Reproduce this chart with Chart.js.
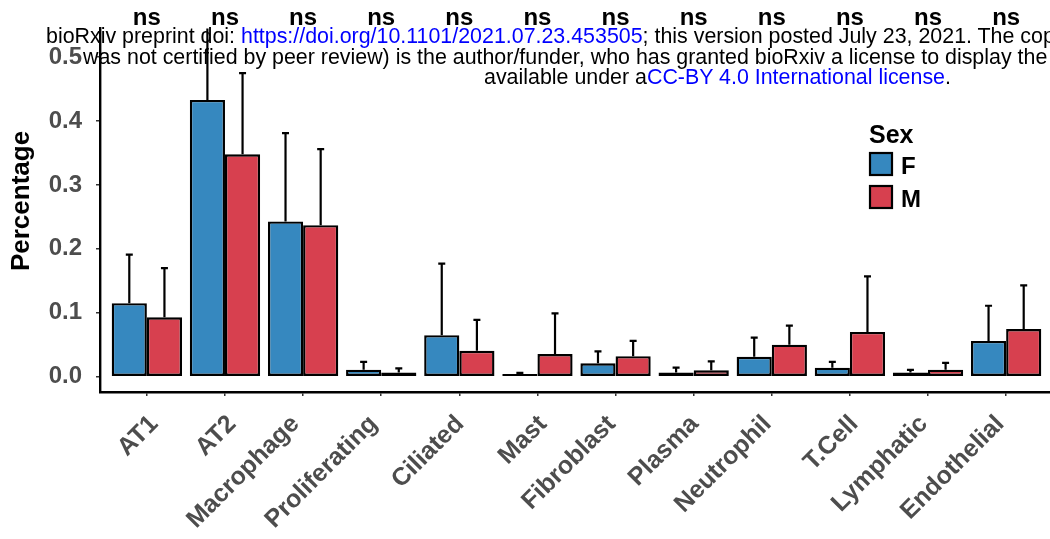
<!DOCTYPE html>
<html>
<head>
<meta charset="utf-8">
<script src="https://cdn.jsdelivr.net/npm/chart.js@4/dist/chart.umd.min.js"></script>
<style>
  html, body { margin: 0; padding: 0; background: #fff; overflow: hidden; }
  #wrap { position: relative; width: 1060px; height: 539px; }
  .note { position: absolute; font: 21.4px "Liberation Sans", Arial, sans-serif; color: #000; white-space: nowrap; line-height: 20.5px; }
  .note a { color: #0000ff; text-decoration: none; }
</style>
</head>
<body>
<div id="wrap">
  <canvas id="chartSex" width="1060" height="539"></canvas>
  <div class="note" style="left:46px; top:26px;">bioRxiv preprint doi: <a>https://doi.org/10.1101/2021.07.23.453505</a>; this version posted July 23, 2021. The copyright holder for this preprint (which</div>
  <div class="note" style="left:83px; top:46.5px;">was not certified by peer review) is the author/funder, who has granted bioRxiv a license to display the preprint in perpetuity. It is made</div>
  <div class="note" style="left:484px; top:67px;">available under a<a>CC-BY 4.0 International license</a>.</div>
</div>
<script>
// Cell type proportions by sex (mean with upper error bar)
const cellTypes = ['AT1', 'AT2', 'Macrophage', 'Proliferating', 'Ciliated', 'Mast',
                   'Fibroblast', 'Plasma', 'Neutrophil', 'T.Cell', 'Lymphatic', 'Endothelial'];
const sexLevels = ['F', 'M'];
const femaleMean  = [0.115, 0.433, 0.243, 0.011, 0.065, 0.004, 0.021, 0.0066, 0.031, 0.014, 0.0066, 0.056];
const maleMean    = [0.093, 0.348, 0.237, 0.0066, 0.0405, 0.0354, 0.032, 0.010, 0.050, 0.070, 0.011, 0.0745];
const femaleUpper = [0.191, 0.560, 0.381, 0.023, 0.177, 0.006, 0.0395, 0.014, 0.061, 0.023, 0.0106, 0.111];
const maleUpper   = [0.170, 0.475, 0.356, 0.013, 0.089, 0.099, 0.056, 0.024, 0.080, 0.157, 0.0217, 0.143];
const sigLabels   = ['ns', 'ns', 'ns', 'ns', 'ns', 'ns', 'ns', 'ns', 'ns', 'ns', 'ns', 'ns'];
const yTicks = [0, 0.1, 0.2, 0.3, 0.4, 0.5];

const sexColors = ['#3688bf', '#d7404f'];
const fontFamily = '"Liberation Sans", Arial, sans-serif';
const tickGrey = '#4d4d4d';

const toPoints = arr => arr.map((v, i) => ({ x: i, y: v }));

// error bars go under the bars so only the upper half shows
const errorBars = {
    id: 'errorBars',
    beforeDatasetsDraw(chart) {
        const { ctx, chartArea, scales: { y } } = chart;
        ctx.save();
        ctx.beginPath();
        ctx.rect(chartArea.left, chartArea.top, chartArea.width, chartArea.height);
        ctx.clip();
        ctx.strokeStyle = '#000';
        ctx.lineWidth = 2.2;
        chart.data.datasets.forEach((ds, i) => {
            chart.getDatasetMeta(i).data.forEach((bar, j) => {
                const yTop = y.getPixelForValue(ds.upper[j]);
                ctx.beginPath();
                ctx.moveTo(bar.x, bar.y);
                ctx.lineTo(bar.x, yTop);
                ctx.moveTo(bar.x - 3.5, yTop);
                ctx.lineTo(bar.x + 3.5, yTop);
                ctx.stroke();
            });
        });
        ctx.restore();
    }
};

// rotated category labels, "ns" marks, y title and the Sex legend
const extras = {
    id: 'extras',
    afterDraw(chart) {
        const { ctx, chartArea, scales: { x } } = chart;
        ctx.save();

        ctx.font = 'bold 25px ' + fontFamily;
        ctx.fillStyle = tickGrey;
        ctx.textAlign = 'right';
        ctx.textBaseline = 'alphabetic';
        cellTypes.forEach((name, i) => {
            const w = ctx.measureText(name).width;
            ctx.save();
            ctx.translate(x.getPixelForValue(i) + 18.8 - 0.146 * w, chartArea.bottom + 33);
            ctx.rotate(-Math.PI / 4);
            ctx.fillText(name, 0, 0);
            ctx.restore();
        });

        ctx.fillStyle = '#000';
        ctx.font = 'bold 24px ' + fontFamily;
        ctx.textAlign = 'center';
        sigLabels.forEach((s, i) => ctx.fillText(s, x.getPixelForValue(i), 25));

        // y axis title
        ctx.save();
        ctx.translate(22, 201);
        ctx.rotate(-Math.PI / 2);
        ctx.font = 'bold 26px ' + fontFamily;
        ctx.textBaseline = 'middle';
        ctx.fillText('Percentage', 0, 0);
        ctx.restore();

        // legend
        ctx.textAlign = 'left';
        ctx.font = 'bold 25px ' + fontFamily;
        ctx.fillText('Sex', 869, 143);
        ctx.font = 'bold 24px ' + fontFamily;
        chart.data.datasets.forEach((ds, i) => {
            const top = 153 + i * 33;
            ctx.fillStyle = ds.backgroundColor;
            ctx.fillRect(870, top, 22, 22);
            ctx.strokeStyle = '#000';
            ctx.lineWidth = 2.2;
            ctx.strokeRect(870, top, 22, 22);
            ctx.fillStyle = '#000';
            ctx.fillText(ds.label, 901, top + 21);
        });
        ctx.restore();
    }
};

new Chart(document.getElementById('chartSex'), {
    type: 'bar',
    data: {
        datasets: [{
            label: sexLevels[0],
            data: toPoints(femaleMean),
            upper: femaleUpper,
            backgroundColor: sexColors[0]
        }, {
            label: sexLevels[1],
            data: toPoints(maleMean),
            upper: maleUpper,
            backgroundColor: sexColors[1]
        }]
    },
    options: {
        responsive: false,
        animation: false,
        layout: { padding: { top: 17, right: 7, left: 0, bottom: 0 } },
        datasets: {
            bar: {
                borderColor: '#000',
                borderWidth: 2.4,
                borderSkipped: false,
                categoryPercentage: 0.9,
                barPercentage: 1.0
            }
        },
        plugins: {
            legend: { display: false },
            tooltip: { enabled: false }
        },
        scales: {
            x: {
                type: 'linear',
                min: -0.6,
                max: 11.6,
                offset: false,
                afterFit: s => { s.height = 147; },
                afterBuildTicks: s => { s.ticks = cellTypes.map((c, i) => ({ value: i })); },
                border: { display: true, color: '#000', width: 2.4 },
                grid: { offset: false, drawOnChartArea: false, drawTicks: true, tickLength: 4, color: '#333', lineWidth: 1.5 },
                ticks: { display: false }
            },
            y: {
                min: -0.024,
                max: 0.545,
                afterFit: s => { s.width = 100; },
                afterBuildTicks: s => { s.ticks = yTicks.map(v => ({ value: v })); },
                border: { display: true, color: '#000', width: 2.4 },
                grid: { drawOnChartArea: false, drawTicks: true, tickLength: 4, color: '#333', lineWidth: 1.5 },
                ticks: {
                    padding: 14,
                    color: tickGrey,
                    font: { family: fontFamily, size: 24, weight: 'bold' },
                    callback: v => v.toFixed(1)
                }
            }
        }
    },
    plugins: [errorBars, extras]
});
</script>
</body>
</html>
